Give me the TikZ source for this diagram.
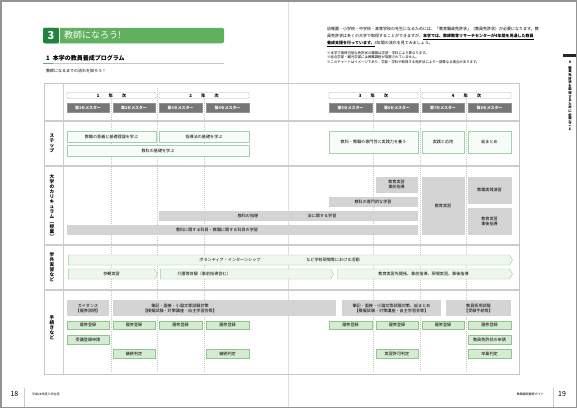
\documentclass[tikz,border=0pt]{standalone}
\usepackage{fontspec}
\setmainfont{Noto Sans CJK JP}
\usetikzlibrary{shapes.symbols}
\definecolor{TitleGreen}{RGB}{96,176,96}
\definecolor{TitleDark}{RGB}{28,132,62}
\definecolor{StepGreen}{RGB}{160,210,170}
\definecolor{StepFill}{RGB}{248,252,248}
\definecolor{CurGray}{RGB}{212,212,212}
\definecolor{SemGray}{RGB}{118,118,118}
\definecolor{ActGreen}{RGB}{150,205,155}
\definecolor{ActFill}{RGB}{238,247,238}
\definecolor{RegGreen}{RGB}{140,200,140}
\definecolor{RegFill}{RGB}{214,236,210}
\definecolor{LineGray}{RGB}{205,205,205}
\newcommand{\cellfont}{\fontsize{4.1}{5}\selectfont}
\newcommand{\notefont}{\fontsize{3.4}{4.6}\selectfont}
\tikzset{
  yearbox/.style={draw=gray!60,fill=white,rounded corners=1pt,minimum height=6pt,inner sep=0pt,font=\fontsize{4.3}{5}\selectfont\bfseries},
  sembox/.style={draw=gray!85,fill=SemGray,minimum width=42.5pt,minimum height=9pt,inner sep=0pt,text=white,font=\fontsize{3.9}{5}\selectfont\bfseries},
  stepbox/.style={draw=StepGreen,fill=StepFill,minimum height=11pt,inner sep=0pt,font=\cellfont},
  curbox/.style={fill=CurGray,draw=gray!35,minimum height=9pt,inner sep=0pt,align=center,font=\cellfont},
  actarrow/.style={shape=signal,signal to=east,signal pointer angle=120,draw=ActGreen,fill=ActFill,minimum height=10pt,inner sep=0pt},
  probox/.style={fill=CurGray,minimum height=16pt,inner sep=0pt,align=center,font=\cellfont},
  regbox/.style={draw=RegGreen,fill=RegFill,minimum width=42.5pt,minimum height=8.5pt,inner sep=0pt,font=\cellfont},
  rowlabel/.style={align=center,inner sep=0pt,font=\fontsize{4.6}{5}\selectfont\bfseries},
  celltext/.style={inner sep=0pt,font=\cellfont},
}
\begin{document}
\begin{tikzpicture}[x=1pt,y=-1pt]
\useasboundingbox (0,0) rectangle (577,408);
\fill[white] (0,0) rectangle (577,408);
\draw[gray!25,line width=0.5pt] (288,0) -- (288,408);

% left page heading
\node[fill=TitleGreen,rounded corners=2pt,minimum width=181pt,minimum height=15.5pt,inner sep=0pt] (banner) at (133.5,35.5) {};
\node[fill=TitleDark,rounded corners=2pt,minimum width=16pt,minimum height=15.5pt,inner sep=0pt,text=white,font=\fontsize{11}{11}\selectfont\bfseries] (chapno) at (51,35.5) {3};
\draw[white,line width=0.6pt] (chapno.north east) -- (chapno.south east);
\node[anchor=west,text=white,inner sep=0pt,font=\fontsize{9}{9}\selectfont] (chaptitle) at (64,35.5) {教師になろう!};
\node[anchor=west,inner sep=0pt,font=\fontsize{6}{7}\selectfont\bfseries] (sectitle) at (46,58.5) {1\hspace{3pt}本学の教員養成プログラム};
\draw[gray!45,line width=1pt] (43,63.5) -- (224,63.5);
\draw[TitleGreen,line width=1pt] (43,63.5) -- (53,63.5);
\node[anchor=west,inner sep=0pt,font=\fontsize{4}{5}\selectfont] (lead) at (46,71) {教師になるまでの流れを知ろう！};

% right page text
\node[anchor=north west,inner sep=0pt,align=left,font=\fontsize{4}{7}\selectfont] (intro) at (327,26.5) {幼稚園・小学校・中学校・高等学校の先生になるためには、「教育職員免許状」（教員免許状）が必要になります。教\\
員免許状は多くの大学で取得することができますが、\underline{\textbf{本学では、教師教育リサーチセンターが4年間を見通した教員}}\\
\underline{\textbf{養成支援を行っています。}}4年間の流れを見てみましょう。};
\node[anchor=north west,inner sep=0pt,align=left,font=\notefont] (notes) at (327,51) {※本学で取得可能な免許状の種類は学部・学科により異なります。\\
※総合学部・観光学部には教職課程が設置されていません。\\
※このチャートはイメージであり、学部・学科や取得する免許状により一部異なる場合があります。};

% side tab
\fill[black!85] (563,54) rectangle (577,57);
\node[rowlabel,font=\fontsize{3.4}{3.6}\selectfont\bfseries] (tab) at (570,96) {Ⅱ\\[2pt]教\\員\\免\\許\\状\\を\\取\\得\\す\\る\\た\\め\\に\\必\\要\\な\\こ\\と};

% table frame and grid
\draw[gray!45,line width=1pt] (44,83) rectangle (519,374);
\draw[LineGray,line width=0.8pt] (63,83) -- (63,374);
\foreach \ry in {121,166,245,290}
  \draw[LineGray,line width=1.2pt] (44,\ry) -- (519,\ry);
\foreach \gx/\gy in {111/99,157/88,204/99,373/99,420/88,466/99}
  \draw[gray!45,dash pattern=on 1pt off 1pt,line width=0.4pt] (\gx,\gy) -- (\gx,372);

% years and semesters
\node[yearbox,minimum width=89pt] (year1) at (111.5,95.5) {1\hspace{9pt}年\hspace{9pt}次};
\node[yearbox,minimum width=90pt] (year2) at (204,95.5) {2\hspace{9pt}年\hspace{9pt}次};
\node[yearbox,minimum width=89pt] (year3) at (373.5,95.5) {3\hspace{9pt}年\hspace{9pt}次};
\node[yearbox,minimum width=89pt] (year4) at (466.5,95.5) {4\hspace{9pt}年\hspace{9pt}次};
\foreach \cx [count=\i] in {88,134,180.5,227.5,350.5,397,443,489.5}
  \node[sembox] (sem\i) at (\cx,107.5) {第\i セメスター};

% row labels
\node[rowlabel] (lbstep) at (52,143) {ス\\テ\\ッ\\プ};
\node[rowlabel] (lbcur) at (52,207) {大\\学\\の\\カ\\リ\\キ\\ュ\\ラ\\ム\\︵\\授\\業\\︶};
\node[rowlabel] (lbact) at (52,267) {学\\外\\実\\習\\な\\ど};
\node[rowlabel] (lbpro) at (52,328) {手\\続\\き\\な\\ど};

% steps
\node[stepbox,minimum width=89pt] (step1) at (111.5,136.5) {教職の意義と基礎理論を学ぶ};
\node[stepbox,minimum width=90pt] (step2) at (204,136.5) {指導法の基礎を学ぶ};
\node[stepbox,minimum width=182pt] (step3) at (158,150.5) {教科の基礎を学ぶ};
\node[stepbox,minimum width=89pt,minimum height=22pt] (step4) at (373.5,142) {教科・教職の専門性と実践力を養う};
\node[stepbox,minimum width=42pt,minimum height=22pt] (step5) at (443,142) {実践と応用};
\node[stepbox,minimum width=43pt,minimum height=22pt] (step6) at (489.5,142) {総まとめ};

% curriculum
\node[curbox,minimum width=41pt,minimum height=15pt] (prejp) at (396.5,184.5) {教育実習\\事前指導};
\node[curbox,minimum width=88pt] (senmon) at (373,201.5) {教科の専門的な学習};
\node[curbox,minimum width=258pt] (shidoho) at (288,215.5) {};
\node[celltext] (shidohoa) at (248,215.5) {教科の指導};
\node[celltext] (shidohob) at (322,215.5) {法に関する学習};
\node[curbox,minimum width=350pt] (kamoku) at (242,229.5) {};
\node[celltext] (kamokut) at (217,229.5) {教科に関する科目・教職に関する科目の学習};
\node[curbox,minimum width=42pt,minimum height=57pt] (jisshu) at (443,205.5) {教育実習};
\node[curbox,minimum width=43pt,minimum height=26pt] (enshu) at (489.5,190) {教職実践演習};
\node[curbox,minimum width=43pt,minimum height=26pt] (postjp) at (489.5,221) {教育実習\\事後指導};

% activities
\node[actarrow,minimum width=444pt] (volunt) at (289,260) {};
\node[celltext] (volunta) at (230,260) {ボランティア・インターンシップ};
\node[celltext] (voluntb) at (333,260) {など学校現場等における活動};
\node[actarrow,minimum width=89pt,font=\cellfont] (sankan) at (111.5,274) {参観実習};
\node[actarrow,minimum width=173pt] (kaigo) at (245.5,274) {};
\node[celltext] (kaigot) at (204,274) {介護等体験（事前指導含む）};
\node[actarrow,minimum width=175pt,font=\cellfont] (kyoiku) at (423.5,274) {教育実習先開拓、事前指導、現場実習、事後指導};

% procedures
\node[probox,minimum width=42pt] (guide) at (88,308) {ガイダンス\\【履修説明】};
\node[probox,minimum width=223pt] (taisaku1) at (224.5,308) {};
\node[celltext,align=center] (taisaku1t) at (180,308) {筆記・面接・小論文等試験対策\\【模擬試験・対策講座・自主学習会等】};
\node[probox,minimum width=99pt] (taisaku2) at (391.5,308) {筆記・面接・小論文等試験対策、総まとめ\\【模擬試験・対策講座・自主学習会等】};
\node[probox,minimum width=65pt] (saiyo) at (478.5,308) {教員採用試験\\【受験手続等】};
\foreach \cx [count=\i] in {88,134,180.5,227.5,350.5,397,443,489.5}
  \node[regbox] (reg\i) at (\cx,325) {履修登録};
\node[regbox] (juko) at (88,339.5) {受講登録申請};
\node[regbox] (menkyo) at (489.5,339.5) {教員免許状の申請};
\node[regbox] (keizoku1) at (134,353.5) {継続判定};
\node[regbox] (keizoku2) at (227.5,353.5) {継続判定};
\node[regbox] (kyoka) at (397,353.5) {実習許可判定};
\node[regbox] (sotsugyo) at (489.5,353.5) {卒業判定};

% footer
\node[inner sep=0pt,font=\fontsize{7}{7}\selectfont] (pgl) at (14.5,394) {18};
\draw[gray!40,line width=0.5pt] (24,388) -- (24,408);
\node[anchor=west,inner sep=0pt,font=\fontsize{3}{3}\selectfont] (footl) at (32,394) {平成28年度入学生用};
\node[anchor=east,inner sep=0pt,font=\fontsize{3}{3}\selectfont] (footr) at (544,394) {教職課程履修ガイド};
\draw[gray!40,line width=0.5pt] (553,388) -- (553,408);
\node[inner sep=0pt,font=\fontsize{7}{7}\selectfont] (pgr) at (562,394) {19};

\draw[gray!85,line width=1.5pt] (0.75,0.75) rectangle (576.25,407.25);
\end{tikzpicture}
\end{document}
